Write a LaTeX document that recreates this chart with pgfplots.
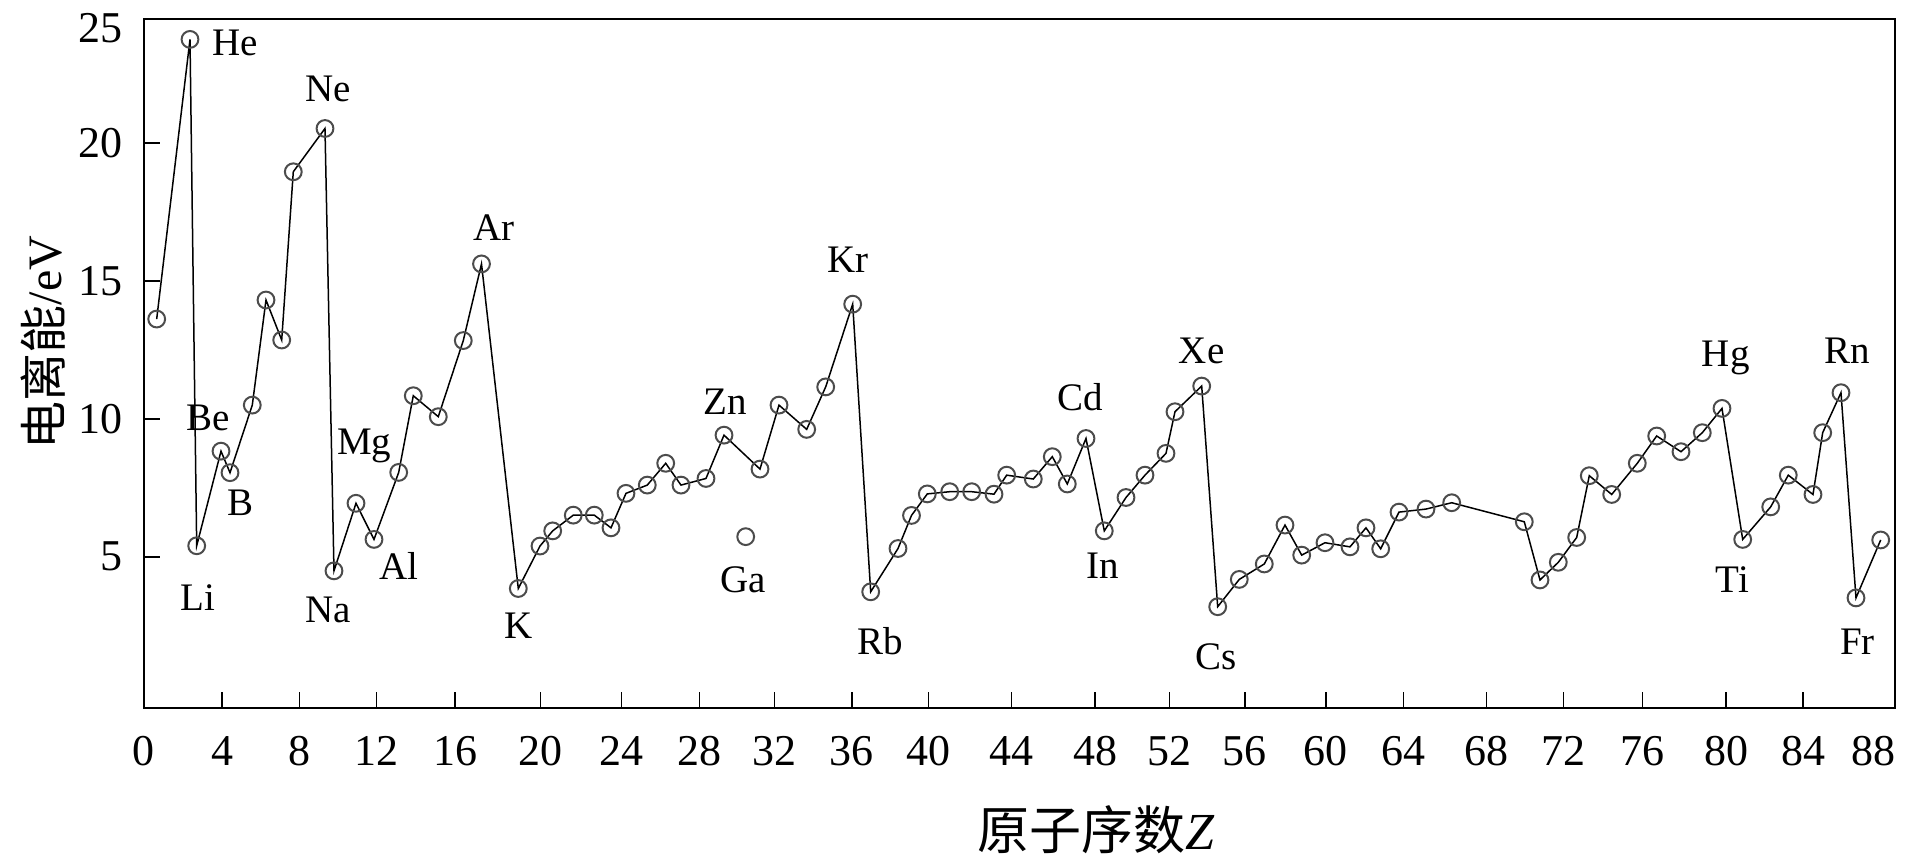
\documentclass[border=0pt]{standalone}
\usepackage{pgfplots}
\pgfplotsset{compat=1.18}
\usepackage{pgfplotstable}
\usepackage{fontspec}
\setmainfont{Liberation Serif}
\newfontfamily\cjk{Noto Sans CJK SC}
\tikzset{lbl/.style={anchor=base, inner sep=0pt, font=\fontsize{19.5}{21}\selectfont}}

% main connected series (x = position, y = eV)
\pgfplotstableread{
u v
0.646 13.62
2.341 23.76
2.682 5.40
3.919 8.83
4.377 8.05
5.511 10.50
6.209 14.31
7.008 12.86
7.598 18.96
9.211 20.53
9.669 4.49
10.789 6.94
11.705 5.63
12.962 8.06
13.705 10.84
14.977 10.08
16.249 12.84
17.176 15.62
19.048 3.85
20.153 5.39
20.799 5.94
21.847 6.51
22.916 6.51
23.766 6.05
24.529 7.30
25.613 7.60
26.550 8.39
27.328 7.60
28.601 7.84
29.517 9.41
31.349 8.18
32.316 10.50
33.725 9.62
34.692 11.16
36.066 14.16
36.982 3.73
38.372 5.30
39.059 6.50
39.863 7.28
41.003 7.36
42.122 7.36
43.257 7.27
43.903 7.96
45.257 7.82
46.224 8.63
46.987 7.64
47.939 9.29
48.870 5.94
49.975 7.15
50.941 7.96
52.010 8.75
52.468 10.26
53.827 11.19
54.641 3.19
55.740 4.18
57.013 4.74
58.066 6.15
58.916 5.06
60.102 5.51
61.374 5.36
62.188 6.05
62.936 5.29
63.868 6.62
65.242 6.73
66.550 6.96
70.244 6.27
71.043 4.16
71.975 4.80
72.911 5.70
73.552 7.94
74.692 7.26
75.995 8.39
76.982 9.38
78.219 8.81
79.303 9.50
80.305 10.38
81.359 5.63
82.784 6.81
83.679 7.96
84.936 7.26
85.430 9.50
86.361 10.95
87.125 3.51
88.382 5.61
}\mainline

% isolated point (Ga)
\pgfplotstableread{
u v
30.621 5.73
}\gapoint

\begin{document}
\begin{tikzpicture}
\begin{axis}[
  scale only axis,
  width=875.5pt, height=344.75pt,
  xmin=0, xmax=89.11, ymin=-0.50, ymax=24.50,
  axis line style={line width=1pt},
  tick align=inside, tick pos=left,
  major tick length=8pt,
  every tick/.style={black, line width=0.75pt},
  xtick={0,3.98,7.92,11.84,15.83,20.19,24.31,28.26,32.08,36.02,39.93,44.16,48.40,52.18,56.03,60.15,64.09,68.33,72.23,76.27,80.51,84.44},
  xticklabels={0,4,8,12,16,20,24,28,32,36,40,44,48,52,56,60,64,68,72,76,80,84},
  extra x ticks={88}, extra x tick labels={88},
  extra x tick style={major tick length=0pt},
  ytick={5,10,15,20},
  extra y ticks={24.16}, extra y tick labels={25},
  extra y tick style={major tick length=0pt},
  /pgf/number format/assume math mode=true,
  tick label style={font=\fontsize{22}{24}\selectfont},
  xticklabel style={anchor=north, inner sep=0pt, outer sep=0pt, yshift=-14pt},
  yticklabel style={anchor=east, inner sep=0pt, outer sep=0pt, xshift=-10.5pt},
  xlabel={{\cjk 原子序数}\textit{Z}},
  xlabel style={at={(axis description cs:0.544,-0.1762)}, anchor=center, font=\fontsize{26}{28}\selectfont},
  ylabel={{\cjk 电离能}/eV},
  ylabel style={at={(axis description cs:-0.0575,0.531)}, anchor=center, font=\fontsize{24}{26}\selectfont},
  clip=false,
]
\addplot[black, line width=0.75pt, mark=o, mark size=4.2pt,
  mark options={draw=black!70, fill=white, line width=1pt}] table[x=u, y=v] {\mainline};
\addplot[only marks, mark=o, mark size=4.2pt,
  mark options={draw=black!70, fill=white, line width=1pt}] table[x=u, y=v] {\gapoint};

\node[lbl] at (axis cs:4.631,23.19) {He};
\node[lbl] at (axis cs:9.379,21.50) {Ne};
\node[lbl] at (axis cs:17.812,16.48) {Ar};
\node[lbl] at (axis cs:3.272,9.59) {Be};
\node[lbl] at (axis cs:4.901,6.51) {B};
\node[lbl] at (axis cs:2.723,3.07) {Li};
\node[lbl] at (axis cs:11.206,8.72) {Mg};
\node[lbl] at (axis cs:9.379,2.61) {Na};
\node[lbl] at (axis cs:12.977,4.18) {Al};
\node[lbl] at (axis cs:19.048,2.04) {K};
\node[lbl] at (axis cs:29.593,10.17) {Zn};
\node[lbl] at (axis cs:30.499,3.69) {Ga};
\node[lbl] at (axis cs:35.817,15.30) {Kr};
\node[lbl] at (axis cs:37.455,1.44) {Rb};
\node[lbl] at (axis cs:47.649,10.32) {Cd};
\node[lbl] at (axis cs:53.827,12.01) {Xe};
\node[lbl] at (axis cs:48.779,4.22) {In};
\node[lbl] at (axis cs:54.545,0.91) {Cs};
\node[lbl] at (axis cs:80.499,11.89) {Hg};
\node[lbl] at (axis cs:86.677,12.01) {Rn};
\node[lbl] at (axis cs:80.840,3.69) {Ti};
\node[lbl] at (axis cs:87.201,1.44) {Fr};

\coordinate (BL) at (rel axis cs:0,0);
\coordinate (TR) at (rel axis cs:1,1);
\end{axis}
\pgfresetboundingbox
\path[use as bounding box] ([shift={(-72pt,-75.25pt)}]BL) rectangle ([shift={(5pt,9.5pt)}]TR);
\end{tikzpicture}
\end{document}
